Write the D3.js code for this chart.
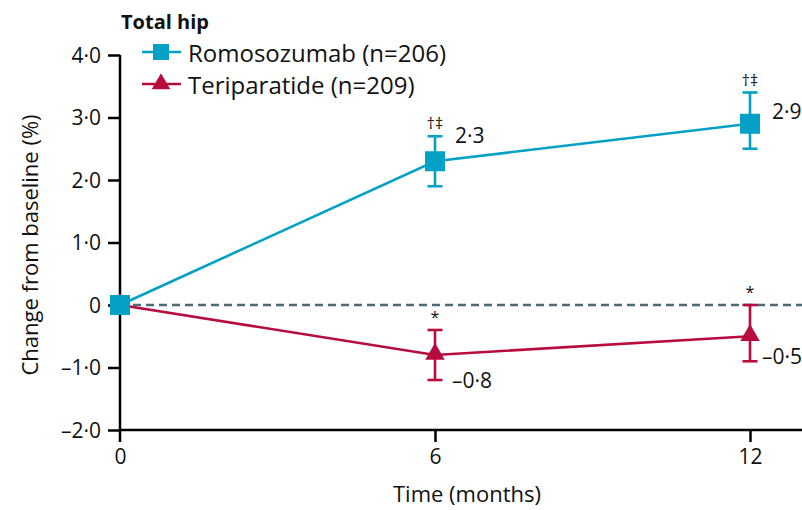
<!DOCTYPE html>
<html>
<head>
<meta charset="utf-8">
<script src="https://cdn.jsdelivr.net/npm/d3@7"></script>
<style>
  body { margin: 0; background: #fff; }
  svg text { font-family: "Open Sans", "Noto Sans", sans-serif; fill: #111; }
</style>
</head>
<body>
<svg id="chart" width="802" height="510"></svg>
<script>
// Total hip BMD: percent change from baseline (mean with 95% CI)
const months = [0, 6, 12];
const romoMean = [0, 2.3, 2.9];
const romoLow = [0, 1.9, 2.5];
const romoHigh = [0, 2.7, 3.4];
const teriMean = [0, -0.8, -0.5];
const teriLow = [0, -1.2, -0.9];
const teriHigh = [0, -0.4, 0.0];
const romoMarks = ["", "†‡", "†‡"];
const teriMarks = ["", "*", "*"];
const yTicks = [-2, -1, 0, 1, 2, 3, 4];
const xTicks = [0, 6, 12];

const blue = "#04a0c6";
const red = "#b70c3e";

const svg = d3.select("#chart");
const x = d3.scaleLinear().domain([0, 12]).range([120, 750]);
const y = d3.scaleLinear().domain([-2, 4]).range([430, 55]);

const fmt = v => v === 0 ? "0" : (v < 0 ? "\u2013" : "") + Math.abs(v).toFixed(1).replace(".", "\u00b7");

// y axis
const yAxis = d3.axisLeft(y).tickValues(yTicks).tickSize(12).tickPadding(7).tickFormat(fmt);
const gy = svg.append("g").attr("transform", "translate(120,0)").call(yAxis);
gy.select(".domain").attr("d", `M0,${y(4)}V${y(-2) + 12}`).attr("stroke-width", 2.5);
gy.selectAll("line").attr("stroke-width", 2.5);
gy.selectAll("text").attr("font-size", 21).attr("dy", "0.35em");

// x axis
const xAxis = d3.axisBottom(x).tickValues(xTicks).tickSize(12).tickPadding(7).tickFormat(d => d);
const gx = svg.append("g").attr("transform", `translate(0,${y(-2)})`).call(xAxis);
gx.select(".domain").attr("d", `M120,0H802`).attr("stroke-width", 2.5);
gx.selectAll("line").attr("stroke-width", 2.5);
gx.selectAll(".tick").filter(d => d === 0).select("line").remove();
gx.selectAll("text").attr("font-size", 21);

// baseline reference
svg.append("line")
  .attr("x1", x(0)).attr("x2", 802)
  .attr("y1", y(0)).attr("y2", y(0))
  .attr("stroke", "#4d6a7b").attr("stroke-width", 2.4)
  .attr("stroke-dasharray", "8,5");

// value label offsets (dx, dy from each point)
const romoLabelPos = [null, [20, -18], [22, -5]];
const teriLabelPos = [null, [17, 33], [12, 28]];

function series(mean, low, high, color, marker, marks, labelPos) {
  const pts = months.map((m, i) => ({ i, m, v: mean[i], lo: low[i], hi: high[i], mk: marks[i] }));
  svg.append("path").datum(pts)
    .attr("fill", "none").attr("stroke", color).attr("stroke-width", 2.6)
    .attr("d", d3.line().x(d => x(d.m)).y(d => y(d.v)));
  const eb = pts.filter(d => d.m > 0);
  const g = svg.append("g").attr("stroke", color).attr("stroke-width", 2.6);
  eb.forEach(d => {
    g.append("line").attr("x1", x(d.m)).attr("x2", x(d.m)).attr("y1", y(d.hi)).attr("y2", y(d.lo));
    g.append("line").attr("x1", x(d.m) - 7.5).attr("x2", x(d.m) + 7.5).attr("y1", y(d.hi)).attr("y2", y(d.hi));
    g.append("line").attr("x1", x(d.m) - 7.5).attr("x2", x(d.m) + 7.5).attr("y1", y(d.lo)).attr("y2", y(d.lo));
  });
  const isSq = marker === "square";
  const sym = d3.symbol().type(isSq ? d3.symbolSquare : d3.symbolTriangle).size(isSq ? 400 : 165);
  svg.append("g").selectAll("path").data(pts).join("path")
    .attr("d", sym).attr("fill", color)
    .attr("transform", d => `translate(${x(d.m)},${y(d.v) + (isSq ? 0 : -1)})`);
  // significance marks and value labels
  eb.forEach(d => {
    svg.append("text").attr("x", x(d.m)).attr("y", y(d.hi) - 7)
      .attr("text-anchor", "middle").attr("font-size", 16).text(d.mk);
    svg.append("text").attr("x", x(d.m) + labelPos[d.i][0]).attr("y", y(d.v) + labelPos[d.i][1])
      .attr("font-size", 21).text(fmt(d.v));
  });
}

// teriparatide first so the romosozumab square sits on top at baseline
series(teriMean, teriLow, teriHigh, red, "triangle", teriMarks, teriLabelPos);
series(romoMean, romoLow, romoHigh, blue, "square", romoMarks, romoLabelPos);

// title
svg.append("text").attr("x", 121).attr("y", 29).attr("font-size", 20).attr("font-weight", "bold").text("Total hip");

// legend
const legend = [
  { name: "Romosozumab (n=206)", color: blue, type: d3.symbolSquare, size: 256, yy: 52 },
  { name: "Teriparatide (n=209)", color: red, type: d3.symbolTriangle, size: 150, yy: 84 }
];
legend.forEach(l => {
  svg.append("line").attr("x1", 142).attr("x2", 181).attr("y1", l.yy).attr("y2", l.yy)
    .attr("stroke", l.color).attr("stroke-width", 2.6);
  svg.append("path").attr("d", d3.symbol().type(l.type).size(l.size)())
    .attr("fill", l.color).attr("transform", `translate(161,${l.yy})`);
  svg.append("text").attr("x", 188).attr("y", l.yy + 10).attr("font-size", 24).text(l.name);
});

// axis titles
svg.append("text").attr("x", 467).attr("y", 502).attr("text-anchor", "middle")
  .attr("font-size", 22).text("Time (months)");
svg.append("text").attr("transform", "translate(38,245) rotate(-90)")
  .attr("text-anchor", "middle").attr("font-size", 22).text("Change from baseline (%)");
</script>
</body>
</html>
